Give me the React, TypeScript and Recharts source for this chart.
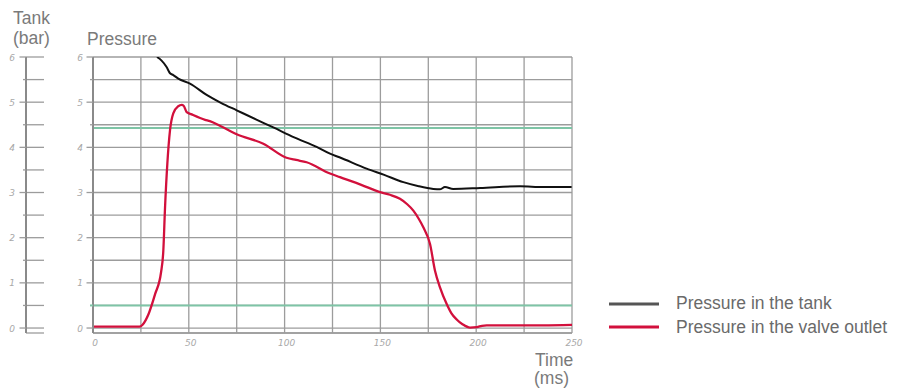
import React from 'react';
import { LineChart, Line, XAxis, YAxis, CartesianGrid, ReferenceLine } from 'recharts';

const tankTime = [33.4, 35.8, 38.4, 40.2, 41.9, 44.5, 50.6, 59.3, 67, 75, 85, 94.1, 105, 116.7, 123.7, 128.6, 142.8, 152, 162, 170, 177.6, 181, 183.7, 188, 202, 222.9, 235, 249.8];
const tankPressure = [6.0, 5.92, 5.78, 5.64, 5.6, 5.52, 5.41, 5.16, 4.98, 4.82, 4.62, 4.44, 4.22, 4.01, 3.86, 3.78, 3.53, 3.39, 3.23, 3.14, 3.08, 3.07, 3.12, 3.08, 3.1, 3.14, 3.12, 3.12];

const outletTime = [0, 12, 24.2, 26, 28.9, 32.4, 35.5, 36.7, 37.6, 38.8, 40.2, 41.9, 44.5, 46.3, 47.3, 48.9, 51.5, 58.5, 61, 67, 75, 88.9, 101, 106, 111.5, 123.7, 128.9, 140, 149.8, 155, 160.2, 164, 167.2, 170, 172.4, 175.9, 178.5, 181.1, 184.6, 187, 189.8, 193, 196.8, 200.3, 203, 205.5, 220, 235, 250];
const outletPressure = [0.03, 0.03, 0.03, 0.08, 0.3, 0.75, 1.23, 1.71, 2.67, 3.64, 4.38, 4.75, 4.91, 4.94, 4.92, 4.78, 4.73, 4.61, 4.58, 4.46, 4.29, 4.08, 3.77, 3.72, 3.67, 3.42, 3.34, 3.17, 3.01, 2.95, 2.86, 2.74, 2.6, 2.42, 2.23, 1.86, 1.27, 0.9, 0.53, 0.33, 0.19, 0.08, 0.01, 0.02, 0.05, 0.06, 0.06, 0.06, 0.07];

const greenLevels = [4.43, 0.5];
const yTicks = [0, 0.5, 1, 1.5, 2, 2.5, 3, 3.5, 4, 4.5, 5, 5.5, 6];
const xTicks = [0, 25, 50, 75, 100, 125, 150, 175, 200, 225, 250];
const xLabelTicks = [0, 50, 100, 150, 200, 250];
const yDomain = [-0.11, 6];

const seriesNames = ['Pressure in the tank', 'Pressure in the valve outlet'];
const seriesColors = ['#111111', '#d2103c'];
const legendColors = ['#555555', '#d2103c'];

const tankData = tankTime.map((t, i) => ({ t, p: tankPressure[i] }));
const outletData = outletTime.map((t, i) => ({ t, p: outletPressure[i] }));

const GRID = '#9c9c9c';
const AXIS = '#8a8a8a';
const GREEN = '#7ec4a6';
const TICKFONT = { fontFamily: 'DejaVu Sans, sans-serif', fontStyle: 'italic', fontSize: 9, fill: '#a8a8a8' } as const;
const LABELFONT = { fontFamily: 'Liberation Sans, Arial, sans-serif', fontSize: 17.5, fill: '#7a7a7a' } as const;

const YTick = (props: any) => {
  const { x, y, payload, labelOffset } = props;
  const v = payload.value;
  const isInt = Math.abs(v - Math.round(v)) < 1e-6;
  const green = greenLevels.includes(v) && props.main;
  return (
    <g>
      <line x1={x - (isInt ? 6.5 : 3)} x2={x} y1={y} y2={y} stroke={green ? GREEN : GRID} strokeWidth={green ? 2 : 1.3} />
      {isInt && (
        <text x={x - labelOffset} y={y + 3.5} textAnchor="middle" style={TICKFONT}>
          {v}
        </text>
      )}
    </g>
  );
};

const XTick = (props: any) => {
  const { x, y, payload } = props;
  const v = payload.value;
  if (!xLabelTicks.includes(v)) return <g />;
  return (
    <text x={x + 2} y={y + 13} textAnchor="middle" style={TICKFONT}>
      {v}
    </text>
  );
};

export default function App() {
  return (
    <div style={{ position: 'relative', width: 896, height: 381 }}>
      {/* Tank axis */}
      <div style={{ position: 'absolute', left: 0, top: 0 }}>
        <LineChart width={60} height={381} data={tankData} margin={{ top: 49, right: 24, left: 8, bottom: 56 }}>
          <CartesianGrid vertical={false} horizontal stroke={GRID} strokeWidth={1.3} />
          <XAxis dataKey="t" type="number" domain={[0, 250]} hide />
          <YAxis
            type="number"
            domain={yDomain}
            allowDataOverflow
            ticks={yTicks}
            interval={0}
            width={10}
            tickSize={0}
            tickMargin={0}
            tickLine={false}
            axisLine={{ stroke: AXIS, strokeWidth: 2 }}
            tick={<YTick labelOffset={14} />}
          />
        </LineChart>
      </div>
      {/* Main chart */}
      <div style={{ position: 'absolute', left: 0, top: 0 }}>
        <LineChart width={896} height={381} margin={{ top: 49, right: 332, left: 55, bottom: 26 }}>
          <CartesianGrid stroke={GRID} strokeWidth={1.3} />
          <XAxis
            dataKey="t"
            type="number"
            domain={[0, 250]}
            ticks={xTicks}
            interval={0}
            height={30}
            tickSize={0}
            tickMargin={0}
            tickLine={false}
            axisLine={{ stroke: GRID, strokeWidth: 1.5 }}
            tick={<XTick />}
          />
          <YAxis
            type="number"
            domain={yDomain}
            allowDataOverflow
            ticks={yTicks}
            interval={0}
            width={30}
            tickSize={0}
            tickMargin={0}
            tickLine={false}
            axisLine={{ stroke: AXIS, strokeWidth: 2 }}
            tick={<YTick labelOffset={13} main />}
          />
          {greenLevels.map((g) => (
            <ReferenceLine key={g} y={g} stroke={GREEN} strokeWidth={2} />
          ))}
          <Line data={tankData} dataKey="p" type="monotone" stroke={seriesColors[0]} strokeWidth={2} dot={false} isAnimationActive={false} />
          <Line data={outletData} dataKey="p" type="monotone" stroke={seriesColors[1]} strokeWidth={2.3} dot={false} isAnimationActive={false} />
        </LineChart>
      </div>
      {/* Labels and legend */}
      <svg width={896} height={381} style={{ position: 'absolute', left: 0, top: 0, pointerEvents: 'none' }}>
        <text x={5} y={16} style={LABELFONT}>Tank</text>
        <text x={5} y={36} style={LABELFONT}>(bar)</text>
        <text x={79} y={37} style={LABELFONT}>Pressure</text>
        <text x={527} y={358} style={LABELFONT}>Time</text>
        <text x={526} y={376} style={LABELFONT}>(ms)</text>
        {seriesNames.map((name, i) => (
          <g key={name}>
            <line x1={601} x2={651} y1={296 + i * 23} y2={296 + i * 23} stroke={legendColors[i]} strokeWidth={3} />
            <text x={668} y={301 + i * 24} style={{ ...LABELFONT, fill: '#6a6a6a' }}>{name}</text>
          </g>
        ))}
      </svg>
    </div>
  );
}
